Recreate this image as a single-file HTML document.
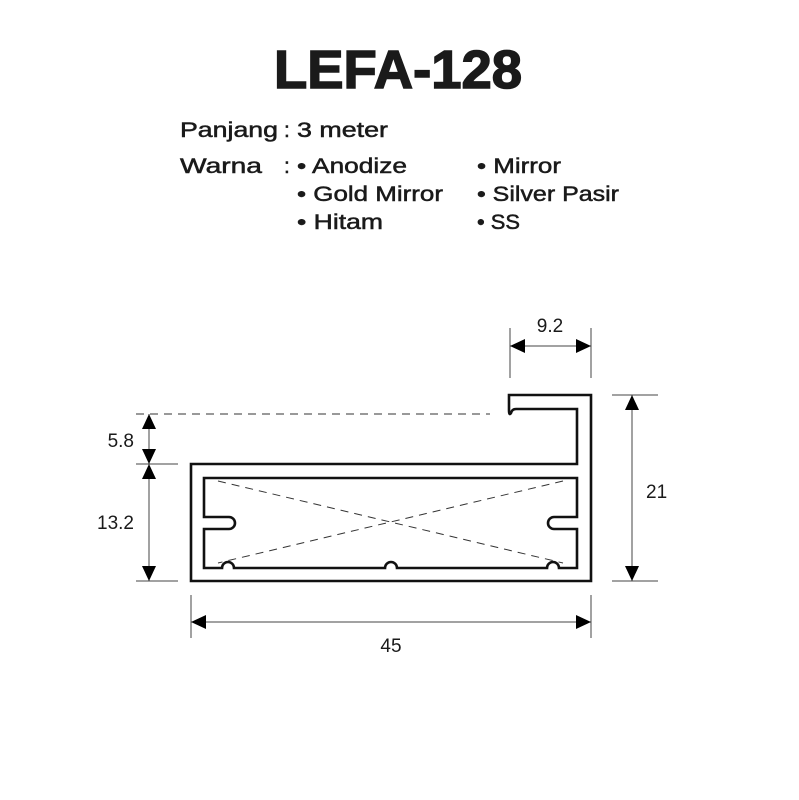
<!DOCTYPE html>
<html><head><meta charset="utf-8"><style>
html,body{margin:0;padding:0;background:#fff;}
svg{display:block;}
text{font-family:"Liberation Sans",sans-serif;fill:#1a1a1a;}
</style></head><body>
<svg width="799" height="800" viewBox="0 0 799 800" xmlns="http://www.w3.org/2000/svg">
<text x="398" y="88" font-size="54" font-weight="bold" text-anchor="middle" textLength="248" lengthAdjust="spacingAndGlyphs" stroke="#1a1a1a" stroke-width="1.5">LEFA-128</text>
<g font-size="21" stroke="#1a1a1a" stroke-width="0.5">
<text x="180" y="137" textLength="98" lengthAdjust="spacingAndGlyphs">Panjang</text>
<text x="284" y="137">:</text>
<text x="297" y="137" textLength="91" lengthAdjust="spacingAndGlyphs">3 meter</text>
<text x="180" y="173" textLength="82" lengthAdjust="spacingAndGlyphs">Warna</text>
<text x="284" y="173">:</text>
<text x="297" y="173" textLength="110" lengthAdjust="spacingAndGlyphs">• Anodize</text>
<text x="477" y="173" textLength="84" lengthAdjust="spacingAndGlyphs">• Mirror</text>
<text x="297" y="201" textLength="146" lengthAdjust="spacingAndGlyphs">• Gold Mirror</text>
<text x="477" y="201" textLength="142" lengthAdjust="spacingAndGlyphs">• Silver Pasir</text>
<text x="297" y="229" textLength="86" lengthAdjust="spacingAndGlyphs">• Hitam</text>
<text x="477" y="229" textLength="43" lengthAdjust="spacingAndGlyphs">• SS</text>
</g>
<g stroke="#111" fill="none">
<path stroke-width="2.6" d="M191,464 L577,464 L577,409 L516,409 Q512,409 511,413 Q509,416 509,410 L509,395 L591,395 L591,581 L191,581 Z"/>
<path stroke-width="2.6" d="M204,478 L577,478 L577,517 L554,517 A6,6 0 0 0 554,529 L577,529 L577,568 L559,568 A6,6 0 0 0 547,568 L397,568 A6,6 0 0 0 385,568 L234,568 A6,6 0 0 0 222,568 L204,568 L204,529 L229,529 A6,6 0 0 0 229,517 L204,517 Z"/>
<g stroke-width="1" stroke-dasharray="8,6" stroke="#333">
<line x1="136" y1="414" x2="490" y2="414"/>
<line x1="218" y1="481" x2="563" y2="563"/>
<line x1="563" y1="481" x2="218" y2="563"/>
</g>
<g stroke-width="1" stroke="#444">
<line x1="510" y1="328" x2="510" y2="378"/>
<line x1="591" y1="328" x2="591" y2="378"/>
<line x1="136" y1="464" x2="178" y2="464"/>
<line x1="136" y1="581" x2="178" y2="581"/>
<line x1="612" y1="395" x2="658" y2="395"/>
<line x1="612" y1="581" x2="658" y2="581"/>
<line x1="191" y1="595" x2="191" y2="638"/>
<line x1="591" y1="595" x2="591" y2="638"/>
<line x1="510" y1="346" x2="591" y2="346"/>
<line x1="149" y1="414" x2="149" y2="581"/>
<line x1="632" y1="395" x2="632" y2="581"/>
<line x1="191" y1="622" x2="591" y2="622"/>
</g>
</g>
<g fill="#000">
<polygon points="510,346 525,339 525,353"/>
<polygon points="591,346 576,339 576,353"/>
<polygon points="149,414 142,429 156,429"/>
<polygon points="149,464 142,449 156,449"/>
<polygon points="149,464 142,479 156,479"/>
<polygon points="149,581 142,566 156,566"/>
<polygon points="632,395 625,410 639,410"/>
<polygon points="632,581 625,566 639,566"/>
<polygon points="191,622 206,615 206,629"/>
<polygon points="591,622 576,615 576,629"/>
</g>
<g font-size="19" fill="#222">
<text x="550" y="332" text-anchor="middle">9.2</text>
<text x="134" y="447" text-anchor="end">5.8</text>
<text x="134" y="529" text-anchor="end">13.2</text>
<text x="646" y="498">21</text>
<text x="391" y="652" text-anchor="middle">45</text>
</g>
</svg>
</body></html>
